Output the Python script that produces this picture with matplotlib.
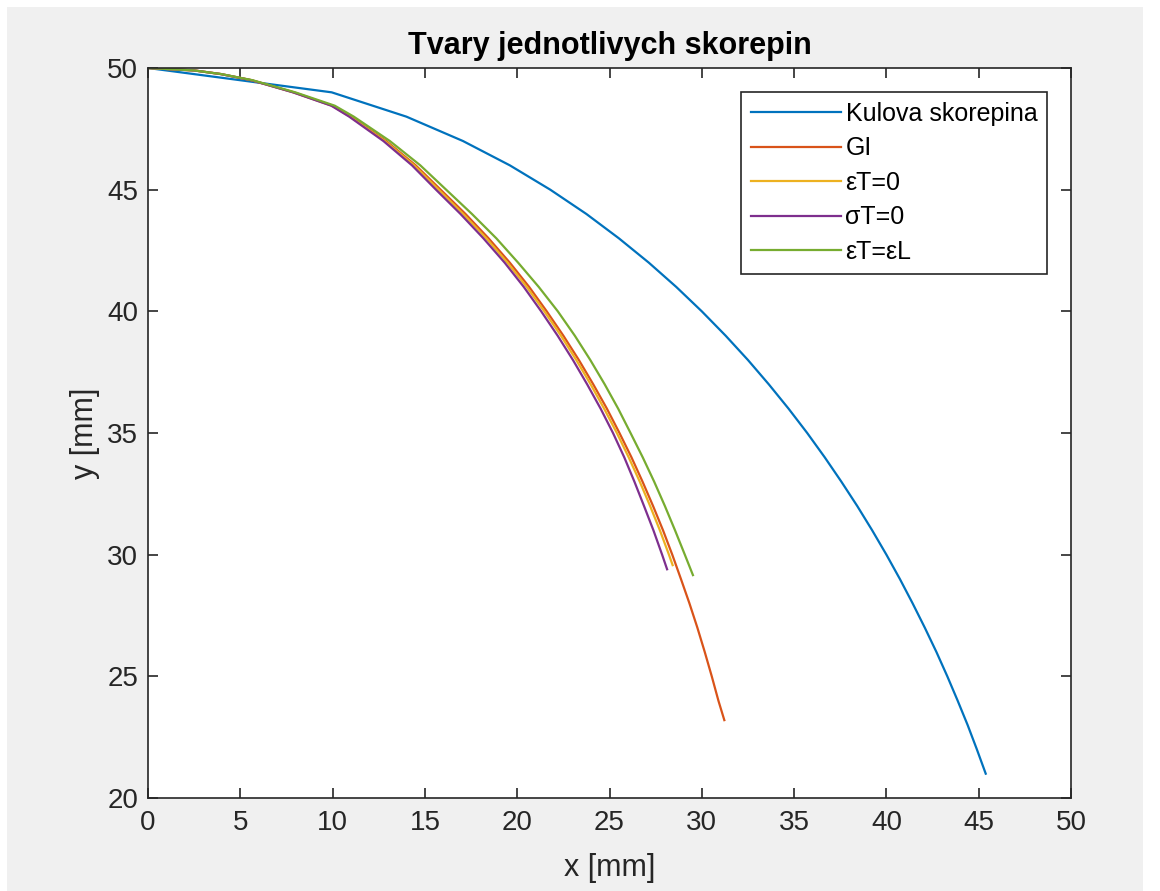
import matplotlib
matplotlib.use("Agg")
import matplotlib.pyplot as plt
from matplotlib.patches import Rectangle

plt.rcParams['font.family'] = ['Liberation Sans', 'DejaVu Sans']

# -----------------------------
# shapes, x [mm], y [mm]
# -----------------------------
# spherical shell, sampled at whole mm of y
kulova_y = [50, 49, 48, 47, 46, 45, 44, 43, 42, 41, 40, 39, 38, 37, 36, 35,
            34, 33, 32, 31, 30, 29, 28, 27, 26, 25, 24, 23, 22, 21]
kulova_x = [0.0, 9.95, 14.0, 17.06, 19.6, 21.79, 23.75, 25.51, 27.13, 28.62,
            30.0, 31.29, 32.5, 33.63, 34.7, 35.71, 36.66, 37.56, 38.42, 39.23,
            40.0, 40.73, 41.42, 42.08, 42.71, 43.3, 43.86, 44.4, 44.9, 45.38]

# GI
gi_y = [50, 49.9, 49.75, 49.5, 49, 48.45, 48, 47, 46, 45, 44, 43, 42, 41, 40,
        39, 38, 37, 36, 35, 34, 33, 32, 31, 30, 29, 28, 27, 26, 25, 24, 23.2]
gi_x = [0.0, 2.5, 3.95, 5.6, 7.9, 10.0, 11.0, 12.9, 14.5, 15.85, 17.2, 18.45,
        19.6, 20.65, 21.6, 22.5, 23.34, 24.12, 24.86, 25.54, 26.19, 26.79,
        27.36, 27.9, 28.4, 28.87, 29.33, 29.76, 30.16, 30.54, 30.9, 31.22]

# eps_T = 0
epsT0_y = [50, 49.9, 49.75, 49.5, 49, 48.45, 48, 47, 46, 45, 44, 43, 42, 41,
           40, 39, 38, 37, 36, 35, 34, 33, 32, 31, 30, 29.57]
epsT0_x = [0.0, 2.5, 3.95, 5.6, 7.88, 9.97, 10.95, 12.83, 14.42, 15.75, 17.08,
           18.33, 19.47, 20.52, 21.47, 22.37, 23.2, 23.98, 24.71, 25.4, 26.04,
           26.64, 27.2, 27.73, 28.22, 28.42]

# sigma_T = 0
sigT0_y = [50, 49.9, 49.75, 49.5, 49, 48.45, 48, 47, 46, 45, 44, 43, 42, 41,
           40, 39, 38, 37, 36, 35, 34, 33, 32, 31, 30, 29.4]
sigT0_x = [0.0, 2.5, 3.95, 5.58, 7.85, 9.93, 10.9, 12.75, 14.3, 15.6, 16.93,
           18.17, 19.32, 20.36, 21.3, 22.19, 23.02, 23.79, 24.52, 25.19, 25.8,
           26.35, 26.87, 27.38, 27.85, 28.12]

# eps_T = eps_L
epsTL_y = [50, 49.9, 49.75, 49.5, 49, 48.45, 48, 47, 46, 45, 44, 43, 42, 41,
           40, 39, 38, 37, 36, 35, 34, 33, 32, 31, 30, 29.16]
epsTL_x = [0.0, 2.5, 3.97, 5.65, 7.98, 10.12, 11.15, 13.1, 14.75, 16.15,
           17.55, 18.87, 20.05, 21.17, 22.2, 23.12, 23.96, 24.74, 25.47, 26.14,
           26.8, 27.42, 28.0, 28.55, 29.08, 29.52]

labels = ["Kulova skorepina", "GI", "\u03b5T=0", "\u03c3T=0", "\u03b5T=\u03b5L"]
colors = ["#0072BD", "#D95319", "#EDB120", "#7E2F8E", "#77AC30"]
series = [(kulova_x, kulova_y), (gi_x, gi_y), (epsT0_x, epsT0_y),
          (sigT0_x, sigT0_y), (epsTL_x, epsTL_y)]

W, H = 1160, 891
fig = plt.figure(figsize=(W / 100, H / 100), dpi=100, facecolor="white")
# grey window background inside a thin white screenshot margin
fig.patches.append(Rectangle((7 / W, 0), (1143 - 7) / W, (H - 7) / H,
                             transform=fig.transFigure, facecolor="#F0F0F0",
                             edgecolor="none", zorder=-10))

ax = fig.add_axes([148 / W, 1 - 798 / H, (1071 - 148) / W, (798 - 68) / H])
ax.set_facecolor("white")

for (xs, ys), lab, c in zip(series, labels, colors):
    ax.plot(xs, ys, color=c, lw=1.6, label=lab)

ax.set_xlim(0, 50)
ax.set_ylim(20, 50)
ax.set_xticks(range(0, 51, 5))
ax.set_yticks(range(20, 51, 5))

axis_col = "#262626"
for s in ax.spines.values():
    s.set_color(axis_col)
    s.set_linewidth(1.2)
ax.tick_params(direction="in", top=True, right=True, length=7, width=1.2,
               color=axis_col, labelcolor=axis_col, labelsize=20)
ax.tick_params(axis="x", pad=9)
ax.tick_params(axis="y", pad=7)

ax.set_xlabel("x [mm]", fontsize=22, color=axis_col, labelpad=12)
ax.set_ylabel("y [mm]", fontsize=22, color=axis_col, labelpad=5)
ax.set_title("Tvary jednotlivych skorepin", fontsize=22, fontweight="bold",
             color="black", pad=10)

leg = ax.legend(loc="upper right", fontsize=18, frameon=True, fancybox=False,
                edgecolor=axis_col, framealpha=1, handlelength=3.6,
                handletextpad=0.2, labelspacing=0.42, borderaxespad=0.95,
                borderpad=0.4)
leg.get_frame().set_linewidth(1.2)

fig.savefig("out.png", dpi=100, facecolor=fig.get_facecolor())
